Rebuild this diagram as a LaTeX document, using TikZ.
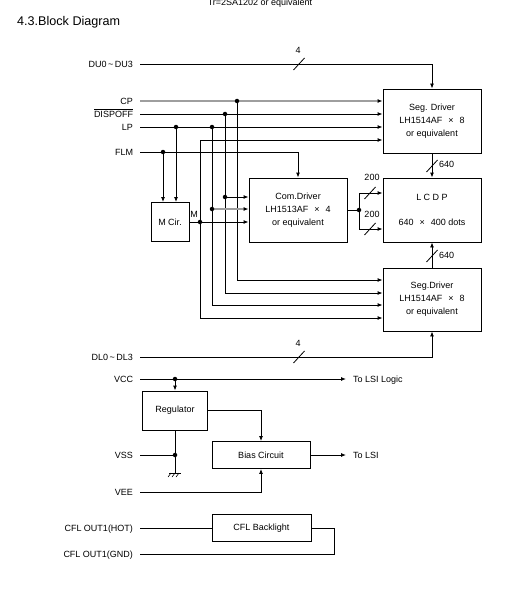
\documentclass[tikz,border=0pt]{standalone}
\usepackage{fontspec}
\setmainfont{Liberation Sans}
\usetikzlibrary{arrows.meta, positioning}
\tikzset{
    wire/.style = {draw, line width=0.9pt},
    feed/.style = {wire, -{Latex[length=5pt, width=4pt]}},
    grey feed/.style = {wire, draw=black!38, line width=1.4pt, -{Latex[length=5pt, width=4pt, color=black]}},
    bus slash/.style = {draw, line width=0.8pt},
}
\tikzset{
    block/.style = {draw, line width=0.9pt, align=center, inner sep=0pt, font=\fontsize{9}{13}\selectfont},
    pin label/.style = {anchor=east, inner sep=0pt, outer xsep=7pt, outer ysep=0pt, text height=6.5pt, text depth=0pt, font=\fontsize{9}{11}\selectfont},
    out label/.style = {pin label, anchor=west},
    bus label/.style = {inner sep=0pt, font=\fontsize{9}{11}\selectfont},
    junction/.style = {circle, fill, inner sep=0pt, minimum size=4.5pt},
}
\newcommand{\bytimes}{\hspace{6pt}×\hspace{6pt}}

\begin{document}
\begin{tikzpicture}[x=1pt, y=-1pt]
        \useasboundingbox (0,0) rectangle (520,591);
        \fill[white] (0,0) rectangle (520,591);

        \node[anchor=base, inner sep=0pt, font=\fontsize{9}{11}\selectfont] (trnote) at (260,6) {Tr=2SA1202 or equivalent};
        \node[anchor=base west, inner sep=0pt, font=\fontsize{12.6}{14}\selectfont] (title) at (17,26) {4.3.Block Diagram};

        \node[block, minimum width=98pt, minimum height=64pt] (segU) at (432,121) {Seg. Driver\\LH1514AF\bytimes 8\\or equivalent};
        \node[block, minimum width=98pt, minimum height=64pt] (lcdp) at (432,210) {L C D P\\[12pt]640\bytimes 400 dots};
        \node[block, minimum width=98pt, minimum height=63pt] (segL) at (432,299.5) {Seg.Driver\\LH1514AF\bytimes 8\\or equivalent};
        \node[block, minimum width=98pt, minimum height=64pt] (com) at (298,210) {Com.Driver\\LH1513AF\bytimes 4\\or equivalent};
        \node[block, minimum width=38pt, minimum height=39pt] (mcir) at (170,222) {M Cir.};

        \node[block, minimum width=65pt, minimum height=39pt] (reg) at (175,410.5) {Regulator};
        \node[block, minimum width=98pt, minimum height=27pt] (bias) at (261,455) {Bias Circuit};
        \node[block, minimum width=99pt, minimum height=27pt] (cfl) at (261.5,528) {CFL Backlight};

        \node[pin label] (du) at (140,64) {DU0\,\textasciitilde\,DU3};
        \node[pin label] (cp) at (140,101) {CP};
        \node[pin label] (dispoff) at (140,114) {$\overline{\mbox{DISPOFF}}$};
        \node[pin label] (lp) at (140,127) {LP};
        \node[pin label] (flm) at (140,152) {FLM};
        \node[pin label] (dl) at (140,357) {DL0\,\textasciitilde\,DL3};
        \node[pin label] (vcc) at (140,379) {VCC};
        \node[pin label] (vss) at (140,455) {VSS};
        \node[pin label] (vee) at (140,492) {VEE};
        \node[pin label] (cflhot) at (140,528) {CFL OUT1(HOT)};
        \node[pin label] (cflgnd) at (140,554) {CFL OUT1(GND)};
        \node[out label] (tologic) at (346,379) {To LSI Logic};
        \node[out label] (tolsi) at (346,455) {To LSI};

        \coordinate (cpdot) at (237,101);
        \coordinate (dispdot) at (225,114);
        \coordinate (lpdot) at (176,127);
        \coordinate (lpdotb) at (212,127);
        \coordinate (flmdot) at (163,152);
        \coordinate (dispdotc) at (225,197);
        \coordinate (lpdotc) at (212,209);
        \coordinate (mdot) at (200,222);
        \coordinate (comdot) at (359,210);
        \coordinate (vccdot) at (175,379);
        \coordinate (vssdot) at (175,455);

        \coordinate (mrowU) at (200,140);
        \coordinate (cprowL) at (237,280);
        \coordinate (disprowL) at (225,293);
        \coordinate (lprowL) at (212,305);
        \coordinate (mrowL) at (200,318);
        \coordinate (gnd) at (175,473);

        \coordinate (busU) at (299,64);
        \coordinate (busL) at (299,357);
        \coordinate (busSegU) at (432,166);
        \coordinate (busSegL) at (432,256);
        \coordinate (busComA) at (370,193);
        \coordinate (busComB) at (370,229);

        \node[bus label] (wU) at (298,50) {4};
        \node[bus label] (wL) at (298,343) {4};
        \node[bus label, anchor=west] (wSegU) at (439,164) {640};
        \node[bus label, anchor=west] (wSegL) at (439,255) {640};
        \node[bus label] (wComA) at (372,177) {200};
        \node[bus label] (wComB) at (372,214) {200};
        \node[bus label] (mlabel) at (194,214) {M};

        \draw[feed] (du.east) -| (segU.north);
        \draw[grey feed] (cp.east) -- (segU.west |- cp.east);
        \draw[feed] (dispoff.east) -- (segU.west |- dispoff.east);
        \draw[feed] (lp.east) -- (segU.west |- lp.east);
        \draw[feed] (flm.east) -| (com.north);

        \draw[feed] (flmdot) -- (mcir.north -| flmdot);
        \draw[feed] (lpdot) -- (mcir.north -| lpdot);
        \draw[feed] (mcir.east) -- (com.west |- mcir.east);
        \draw[feed] (mdot) -- (mrowU) -- (segU.west |- mrowU);
        \draw[feed] (mdot) -- (mrowL) -- (segL.west |- mrowL);

        \draw[feed] (cpdot) -- (cprowL) -- (segL.west |- cprowL);
        \draw[feed] (dispdot) -- (disprowL) -- (segL.west |- disprowL);
        \draw[feed] (lpdotb) -- (lprowL) -- (segL.west |- lprowL);
        \draw[feed] (dispdotc) -- (com.west |- dispdotc);
        \draw[grey feed] (lpdotc) -- (com.west |- lpdotc);

        \draw[wire] (com.east |- comdot) -- (comdot);
        \draw[feed] (comdot) |- (lcdp.west |- busComA);
        \draw[feed] (comdot) |- (lcdp.west |- busComB);
        \draw[feed] (segU.south) -- (lcdp.north);
        \draw[feed] (segL.north) -- (lcdp.south);
        \draw[feed] (dl.east) -| (segL.south);

        \foreach \b in {busU, busL, busSegU, busSegL, busComA, busComB}
            \draw[bus slash] ([shift={(-5.5,6)}]\b) -- ([shift={(5.5,-6)}]\b);

        \draw[feed] (vcc.east) -- (tologic.west);
        \draw[feed] (vccdot) -- (reg.north -| vccdot);
        \draw[feed] (reg.east) -| (bias.north);
        \draw[feed] (bias.east) -- (tolsi.west |- bias.east);
        \draw[wire] (vss.east) -- (vssdot);
        \draw[wire] (reg.south -| vssdot) -- (gnd);
        \draw[line width=0.7pt] ([xshift=-6pt]gnd) -- ([xshift=6pt]gnd);
        \foreach \dx in {-4,0,4}
            \draw[line width=0.6pt] ([xshift=\dx pt]gnd) -- ++(-3,4);
        \draw[feed] (vee.east) -| (bias.south);

        \draw[wire] (cflhot.east) -- (cfl.west |- cflhot.east);
        \draw[wire] (cfl.east) -- ++(23,0) |- (cflgnd.east);

        \foreach \j in {cpdot, dispdot, lpdot, lpdotb, flmdot, dispdotc, lpdotc, mdot, comdot, vccdot, vssdot}
            \node[junction] (\j-mark) at (\j) {};
    \end{tikzpicture}
\end{document}
